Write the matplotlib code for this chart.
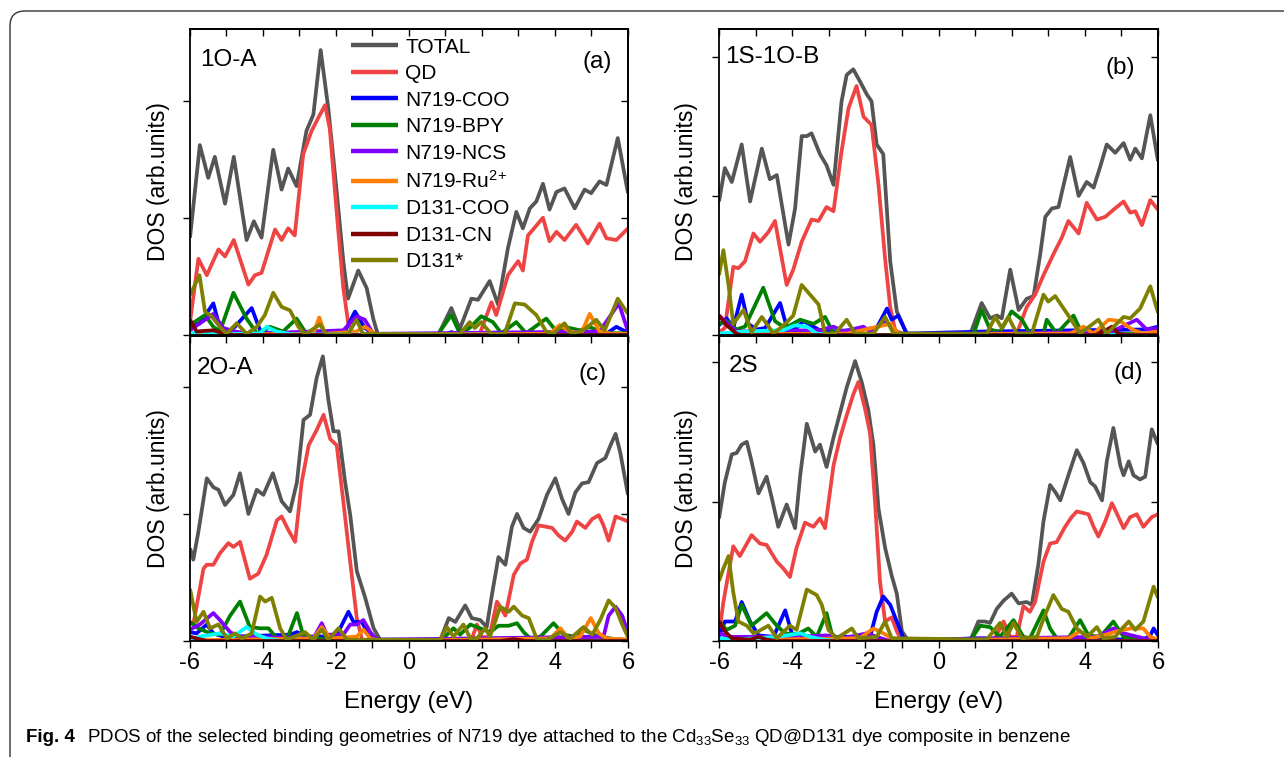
import numpy as np
import matplotlib
matplotlib.use('Agg')
import matplotlib.pyplot as plt
from matplotlib import font_manager
from matplotlib.path import Path
from matplotlib.patches import PathPatch
from matplotlib.ticker import MultipleLocator, FuncFormatter

plt.rcParams['font.family'] = ['Liberation Sans', 'DejaVu Sans']
plt.rcParams['mathtext.fontset'] = 'custom'
plt.rcParams['mathtext.rm'] = 'Liberation Sans'
plt.rcParams['mathtext.it'] = 'Liberation Sans:italic'
plt.rcParams['mathtext.bf'] = 'Liberation Sans:bold'

labels = ['TOTAL', 'QD', 'N719-COO', 'N719-BPY', 'N719-NCS', r'N719-Ru$^{2\!+}$',
          'D131-COO', 'D131-CN', 'D131*']
colors = ['#555555', '#EE4444', '#0000FF', '#008000', '#8000FF', '#FF8000',
          '#00FFFF', '#800000', '#808000']

# ---------------- panel (a) 1O-A ----------------
a_total = [(-6.0, 8.3), (-5.73, 16.2), (-5.50, 13.4), (-5.32, 15.2), (-5.04, 11.2), (-4.80, 15.2),
           (-4.45, 8.1), (-4.25, 9.7), (-4.04, 8.3), (-3.72, 15.8), (-3.49, 12.4), (-3.31, 14.2),
           (-3.08, 12.7), (-2.81, 17.4), (-2.62, 18.8), (-2.42, 24.3), (-2.21, 19.3), (-1.99, 12.5),
           (-1.80, 6.3), (-1.67, 3.1), (-1.39, 5.5), (-1.16, 4.0), (-0.98, 1.4), (-0.85, 0.0),
           (0.80, 0.0), (1.16, 2.3), (1.39, 0.5), (1.71, 3.1), (1.89, 3.0), (2.21, 4.6), (2.44, 2.6),
           (2.71, 7.4), (2.94, 10.5), (3.12, 9.1), (3.31, 10.8), (3.49, 11.4), (3.67, 12.9),
           (3.85, 10.7), (4.04, 12.2), (4.26, 12.5), (4.54, 10.8), (4.81, 12.4), (4.99, 12.1),
           (5.22, 13.1), (5.41, 12.8), (5.72, 16.8), (6.0, 12.1)]
a_qd = [(-6.0, 1.1), (-5.77, 6.5), (-5.54, 5.1), (-5.22, 7.3), (-5.04, 6.7), (-4.80, 8.1), (-4.40, 4.3),
        (-4.22, 5.1), (-4.04, 5.3), (-3.67, 9.0), (-3.49, 8.1), (-3.31, 9.1), (-3.13, 8.5), (-2.90, 15.4),
        (-2.67, 17.4), (-2.49, 18.5), (-2.30, 19.6), (-2.17, 17.6), (-1.99, 10.8), (-1.80, 4.0),
        (-1.67, 1.1), (-1.53, 0.0), (1.94, 0.1), (2.26, 2.8), (2.39, 1.7), (2.71, 5.1), (2.85, 5.7),
        (2.99, 6.3), (3.12, 5.5), (3.26, 8.5), (3.40, 9.0), (3.67, 10.0), (3.85, 8.0), (4.04, 8.8),
        (4.26, 8.1), (4.58, 9.4), (4.90, 7.8), (5.22, 9.5), (5.41, 8.25), (5.68, 8.1), (6.0, 9.1)]
a_n719_coo = [(-6.0, 0.7), (-5.73, 1.0), (-5.36, 2.7), (-5.18, 0.6), (-5.0, 0.15), (-4.77, 0.7),
              (-4.31, 2.3), (-4.08, 0.4), (-3.81, 0.15), (-1.76, 0.3), (-1.48, 2.0), (-1.21, 0.6),
              (-0.98, 0.1), (1.0, 0.0), (1.16, 0.25), (1.4, 0.0), (5.4, 0.1), (5.68, 0.7), (6.0, 0.2)]
a_n719_bpy = [(-6.0, 0.85), (-5.59, 1.7), (-5.36, 0.7), (-5.18, 0.3), (-4.81, 3.6), (-4.45, 1.4),
              (-4.17, 0.15), (-3.81, 0.7), (-3.45, 0.3), (-3.08, 1.4), (-2.81, 0.1), (-2.44, 0.3),
              (-2.2, 0.0), (0.78, 0.0), (1.16, 1.7), (1.39, 0.15), (1.66, 0.6), (1.98, 1.6), (2.30, 1.1),
              (2.53, 0.15), (2.94, 1.1), (3.21, 0.15), (3.76, 1.4), (4.04, 0.3), (4.26, 0.7), (4.68, 0.4),
              (4.95, 0.7), (5.31, 0.15), (6.0, 0.15)]
a_n719_ncs = [(-6.0, 0.4), (-5.36, 1.8), (-5.09, 0.6), (-4.77, 0.3), (-4.3, 0.1), (-1.80, 0.4),
              (-1.44, 1.6), (-1.21, 1.3), (-0.98, 0.1), (5.22, 0.3), (5.75, 2.7), (6.0, 0.3)]
a_n719_ru = [(-6.0, 0.05), (-2.62, 0.1), (-2.46, 1.5), (-2.30, 0.1), (-1.44, 0.3), (-1.21, 0.7),
             (-0.9, 0.05), (3.85, 0.1), (4.13, 0.85), (4.40, 0.3), (4.72, 0.15), (4.95, 1.8),
             (5.22, 0.3), (5.58, 0.1), (6.0, 0.1)]
a_d131_coo = [(-6.0, 0.1), (-5.73, 0.3), (-5.27, 0.05), (-4.08, 0.15), (-3.90, 0.7), (-3.63, 0.3),
              (-3.2, 0.05), (6.0, 0.0)]
a_d131_cn = [(-6.0, 1.3), (-5.82, 0.3), (-5.36, 0.4), (-5.09, 0.15), (-4.8, 0.0), (6.0, 0.0)]
a_d131 = [(-6.0, 3.4), (-5.74, 5.1), (-5.59, 2.0), (-5.41, 1.6), (-5.18, 0.7), (-5.0, 0.1), (-4.72, 1.0),
          (-4.45, 0.1), (-4.17, 0.7), (-3.95, 1.7), (-3.72, 3.6), (-3.49, 2.4), (-3.26, 2.1),
          (-3.03, 0.7), (-2.85, 0.05), (-2.44, 0.9), (-2.26, 0.05), (-1.67, 0.05), (-1.44, 1.3),
          (-1.26, 0.1), (1.39, 0.05), (1.66, 1.1), (1.80, 0.6), (1.98, 1.1), (2.26, 0.05), (2.62, 0.1),
          (2.90, 2.7), (3.17, 2.6), (3.49, 1.7), (3.76, 0.3), (3.95, 0.1), (4.26, 1.0), (4.45, 0.1),
          (4.77, 0.4), (5.13, 1.3), (5.36, 0.4), (5.72, 3.1), (6.0, 1.8)]

# ---------------- panel (b) 1S-1O-B ----------------
b_total = [(-6.0, 9.6), (-5.84, 12.0), (-5.65, 11.0), (-5.38, 13.7), (-5.15, 9.6), (-4.83, 13.4),
           (-4.61, 11.2), (-4.42, 11.5), (-4.10, 6.5), (-3.92, 9.1), (-3.74, 14.3), (-3.60, 14.3),
           (-3.47, 14.5), (-3.24, 13.0), (-3.06, 12.2), (-2.87, 10.8), (-2.65, 16.8), (-2.51, 18.7),
           (-2.33, 19.1), (-2.14, 18.2), (-1.96, 17.3), (-1.83, 16.8), (-1.69, 13.7), (-1.51, 13.0),
           (-1.32, 5.3), (-1.14, 1.7), (-0.87, 0.1), (0.86, 0.0), (1.18, 2.3), (1.41, 1.2), (1.59, 1.4),
           (1.73, 1.2), (1.96, 4.7), (2.19, 1.8), (2.41, 2.6), (2.60, 2.8), (2.78, 5.8), (2.92, 8.5),
           (3.10, 9.1), (3.28, 9.2), (3.42, 10.8), (3.60, 12.8), (3.83, 10.0), (4.05, 11.0),
           (4.24, 10.6), (4.42, 12.1), (4.60, 13.7), (4.83, 13.1), (5.06, 13.8), (5.24, 12.6),
           (5.38, 13.4), (5.56, 12.7), (5.79, 15.8), (6.0, 12.5)]
b_qd = [(-6.0, 0.2), (-5.84, 0.5), (-5.61, 4.9), (-5.47, 4.8), (-5.29, 5.3), (-5.06, 7.3), (-4.88, 6.7),
        (-4.65, 7.4), (-4.47, 8.2), (-4.15, 3.6), (-3.97, 4.7), (-3.74, 6.7), (-3.47, 8.3), (-3.28, 8.2),
        (-3.06, 9.2), (-2.87, 8.9), (-2.65, 13.2), (-2.46, 16.3), (-2.24, 17.9), (-2.05, 15.7),
        (-1.83, 15.1), (-1.64, 10.8), (-1.46, 5.5), (-1.32, 2.0), (-1.19, 0.4), (-1.05, 0.0),
        (2.14, 0.1), (2.41, 2.0), (2.64, 2.9), (2.87, 4.3), (3.14, 5.8), (3.37, 7.0), (3.55, 8.2),
        (3.83, 7.3), (4.05, 9.5), (4.33, 8.3), (4.56, 8.5), (4.78, 9.0), (5.06, 9.6), (5.24, 8.8),
        (5.38, 8.9), (5.56, 7.9), (5.79, 9.7), (6.0, 9.0)]
b_n719_coo = [(-6.0, 0.7), (-5.79, 1.2), (-5.61, 0.5), (-5.38, 2.9), (-5.20, 0.8), (-4.97, 0.4),
              (-4.74, 0.5), (-4.33, 2.3), (-4.15, 0.6), (-3.88, 0.5), (-3.69, 1.0), (-3.42, 0.6),
              (-3.15, 0.2), (-1.69, 0.5), (-1.41, 1.9), (-1.28, 1.1), (-1.10, 1.4), (-0.87, 0.1),
              (1.23, 0.25), (5.69, 0.4), (6.0, 0.6)]
b_n719_bpy = [(-6.0, 0.8), (-5.79, 1.0), (-5.52, 0.4), (-5.29, 0.6), (-4.79, 3.4), (-4.47, 1.0),
              (-4.19, 0.5), (-3.78, 1.1), (-3.42, 0.8), (-3.10, 1.3), (-2.87, 0.1), (-2.5, 0.0),
              (0.95, 0.0), (1.18, 1.8), (1.41, 0.4), (1.68, 0.2), (2.0, 1.7), (2.28, 1.1), (2.50, 0.1),
              (2.87, 0.1), (2.96, 1.1), (3.23, 0.1), (3.69, 1.4), (3.87, 0.4), (4.15, 0.1), (6.0, 0.05)]
b_n719_ncs = [(-6.0, 1.4), (-5.84, 1.0), (-5.52, 0.25), (-3.24, 0.35), (-2.87, 0.6), (-2.60, 0.25),
              (-2.05, 0.6), (-1.87, 0.25), (-1.46, 1.0), (-1.14, 0.25), (-0.9, 0.05), (4.7, 0.2),
              (5.42, 1.1), (5.69, 0.4), (6.0, 0.5)]
b_n719_ru = [(-6.0, 0.05), (-2.5, 0.1), (-1.32, 0.8), (-1.14, 0.25), (-0.95, 0.05), (3.6, 0.1),
             (3.96, 0.6), (4.24, 0.1), (4.65, 1.1), (4.97, 1.0), (5.29, 0.4), (5.60, 0.1), (6.0, 0.25)]
b_d131_coo = [(-6.0, 0.1), (-5.33, 0.25), (-4.24, 0.35), (-3.92, 0.7), (-3.60, 0.6), (-3.33, 0.1),
              (-2.8, 0.0), (6.0, 0.0)]
b_d131_cn = [(-6.0, 1.4), (-5.79, 0.7), (-5.52, 0.1), (-5.4, 0.0), (4.29, 0.0), (4.51, 0.25),
             (4.74, 0.6), (4.92, 0.1), (5.1, 0.0), (6.0, 0.0)]
b_d131 = [(-6.0, 4.3), (-5.88, 6.1), (-5.74, 3.6), (-5.61, 0.8), (-5.33, 1.8), (-5.11, 0.2), (-4.83, 1.3),
          (-4.51, 0.1), (-4.19, 0.8), (-3.97, 1.4), (-3.74, 3.6), (-3.51, 2.9), (-3.28, 2.2),
          (-3.10, 0.1), (-2.83, 0.1), (-2.51, 1.1), (-2.28, 0.1), (-1.78, 0.1), (-1.46, 1.3),
          (-1.23, 0.1), (1.32, 0.1), (1.55, 1.3), (1.73, 0.5), (1.91, 1.3), (2.14, 0.1), (2.55, 0.1),
          (2.87, 2.9), (3.0, 2.4), (3.19, 2.8), (3.55, 1.4), (3.87, 0.1), (4.37, 1.1), (4.60, 0.1),
          (5.06, 1.3), (5.24, 1.2), (5.51, 1.9), (5.79, 3.5), (6.0, 1.6)]

# ---------------- panel (c) 2O-A ----------------
c_total = [(-6.0, 7.3), (-5.91, 6.4), (-5.77, 8.6), (-5.54, 12.8), (-5.36, 12.1), (-5.22, 11.9),
           (-5.04, 10.7), (-4.81, 11.5), (-4.63, 13.2), (-4.40, 10.0), (-4.17, 11.9), (-3.99, 11.5),
           (-3.73, 13.2), (-3.49, 11.0), (-3.26, 10.2), (-3.07, 12.5), (-2.89, 17.4), (-2.71, 17.8),
           (-2.53, 20.7), (-2.36, 22.4), (-2.21, 19.0), (-2.07, 16.5), (-1.93, 16.5), (-1.75, 12.5),
           (-1.61, 9.9), (-1.43, 5.5), (-1.20, 3.4), (-0.97, 1.0), (-0.79, 0.1), (0.86, 0.1),
           (1.09, 1.8), (1.27, 1.5), (1.54, 2.8), (1.72, 1.8), (1.95, 1.65), (2.13, 1.1), (2.27, 3.6),
           (2.45, 6.6), (2.64, 6.0), (2.82, 9.0), (2.96, 10.0), (3.14, 8.9), (3.32, 8.6), (3.55, 9.6),
           (3.78, 11.5), (4.01, 12.8), (4.19, 11.2), (4.37, 10.0), (4.56, 11.7), (4.74, 12.4),
           (4.92, 12.5), (5.15, 14.0), (5.38, 14.4), (5.52, 15.4), (5.66, 16.3), (5.79, 14.8),
           (6.0, 11.5)]
c_qd = [(-6.0, 1.5), (-5.91, 1.3), (-5.63, 5.7), (-5.54, 6.0), (-5.36, 6.0), (-5.18, 6.9), (-4.95, 7.7),
        (-4.81, 7.4), (-4.63, 7.8), (-4.36, 4.9), (-4.13, 5.3), (-3.90, 6.8), (-3.62, 9.5), (-3.49, 9.8),
        (-3.30, 8.7), (-3.12, 7.8), (-2.94, 12.5), (-2.75, 15.4), (-2.53, 16.6), (-2.34, 17.8),
        (-2.16, 15.9), (-1.98, 15.4), (-1.80, 11.0), (-1.61, 6.2), (-1.43, 1.8), (-1.29, 0.15),
        (-1.15, 0.0), (1.7, 0.0), (1.86, 1.3), (2.0, 0.3), (2.2, 0.3), (2.41, 3.1), (2.64, 2.0),
        (2.87, 5.2), (3.05, 6.1), (3.23, 6.4), (3.37, 7.8), (3.55, 9.1), (3.74, 9.0), (3.92, 8.9),
        (4.10, 8.3), (4.28, 7.9), (4.47, 8.6), (4.60, 9.4), (4.83, 8.9), (5.02, 9.6), (5.20, 9.9),
        (5.33, 9.1), (5.47, 7.9), (5.66, 9.8), (5.84, 9.6), (6.0, 9.4)]
c_n719_coo = [(-6.0, 0.7), (-5.82, 0.6), (-5.54, 1.3), (-5.36, 0.6), (-5.09, 0.35), (-4.72, 0.35),
              (-3.26, 0.5), (-3.07, 0.7), (-2.80, 0.35), (-2.0, 0.35), (-1.66, 2.3), (-1.52, 1.5),
              (-1.29, 1.5), (-1.11, 0.5), (-0.88, 0.1), (6.0, 0.05)]
c_n719_bpy = [(-6.0, 1.5), (-5.77, 1.0), (-5.45, 0.6), (-5.18, 0.5), (-4.90, 2.0), (-4.63, 3.1),
              (-4.36, 1.1), (-4.08, 1.0), (-3.85, 1.0), (-3.62, 0.2), (-3.35, 0.1), (-3.07, 2.2),
              (-2.89, 0.35), (-2.62, 0.1), (-2.44, 0.2), (-2.2, 0.0), (0.86, 0.0), (1.22, 1.0),
              (1.40, 0.5), (1.68, 1.3), (1.95, 1.0), (2.22, 0.7), (2.45, 1.2), (2.73, 1.2), (2.96, 1.4),
              (3.14, 0.7), (3.32, 0.2), (3.60, 0.35), (3.96, 1.4), (4.24, 0.5), (4.51, 0.35),
              (4.78, 0.9), (5.06, 0.5), (5.24, 0.35), (5.61, 0.15), (6.0, 0.1)]
c_n719_ncs = [(-6.0, 0.9), (-5.73, 1.3), (-5.36, 2.2), (-5.18, 1.65), (-4.90, 0.7), (-4.68, 0.35),
              (-2.62, 0.2), (-2.39, 1.4), (-2.25, 0.5), (-1.80, 0.5), (-1.61, 1.3), (-1.43, 1.3),
              (-1.25, 1.65), (-1.06, 0.7), (-0.88, 0.1), (5.33, 0.35), (5.47, 2.0), (5.66, 2.7),
              (5.84, 2.0), (6.0, 0.6)]
c_n719_ru = [(-6.0, 0.05), (-2.62, 0.2), (-2.39, 1.1), (-2.16, 0.2), (-1.43, 0.35), (-1.25, 0.9),
             (-1.06, 0.2), (-0.8, 0.0), (3.87, 0.2), (4.15, 1.0), (4.37, 0.2), (4.69, 0.35), (4.98, 1.8),
             (5.20, 0.6), (5.42, 0.2), (6.0, 0.1)]
c_d131_coo = [(-6.0, 0.1), (-5.73, 0.35), (-5.18, 0.6), (-4.81, 0.35), (-4.45, 1.1), (-4.17, 0.5),
              (-3.90, 0.2), (-3.5, 0.0), (6.0, 0.0)]
c_d131_cn = [(-6.0, 0.35), (-5.82, 0.2), (-5.54, 0.0), (2.5, 0.0), (2.87, 0.15), (3.2, 0.0), (6.0, 0.0)]
c_d131 = [(-6.0, 4.1), (-5.82, 1.5), (-5.63, 2.3), (-5.45, 1.0), (-5.22, 1.3), (-4.99, 0.2), (-4.77, 0.6),
          (-4.58, 0.2), (-4.31, 0.6), (-4.08, 3.5), (-3.94, 3.1), (-3.76, 3.4), (-3.53, 1.0),
          (-3.35, 0.1), (-2.85, 0.7), (-2.62, 0.1), (-2.39, 0.9), (-2.21, 0.1), (-1.93, 1.0),
          (-1.70, 0.1), (0.86, 0.1), (1.04, 1.1), (1.22, 0.35), (1.49, 1.3), (1.68, 0.2), (1.86, 0.2),
          (2.09, 1.0), (2.22, 0.35), (2.50, 2.7), (2.73, 2.3), (2.87, 2.7), (3.10, 2.0), (3.28, 1.8),
          (3.51, 0.1), (3.78, 0.1), (4.15, 0.7), (4.42, 0.2), (4.78, 1.1), (5.02, 0.5), (5.24, 1.65),
          (5.47, 3.2), (5.66, 2.6), (5.84, 1.3), (6.0, 0.3)]

# ---------------- panel (d) 2S ----------------
d_total = [(-6.0, 8.8), (-5.84, 11.4), (-5.65, 13.4), (-5.52, 13.5), (-5.38, 14.1), (-5.24, 14.3),
           (-5.11, 12.9), (-4.92, 10.6), (-4.70, 11.8), (-4.56, 10.3), (-4.38, 8.2), (-4.15, 9.8),
           (-3.92, 8.1), (-3.78, 11.9), (-3.60, 15.6), (-3.37, 13.6), (-3.24, 14.1), (-3.06, 12.5),
           (-2.87, 14.6), (-2.69, 16.4), (-2.51, 18.2), (-2.28, 20.1), (-2.10, 18.6), (-1.92, 16.6),
           (-1.78, 14.1), (-1.64, 9.5), (-1.46, 6.7), (-1.28, 4.7), (-1.14, 3.4), (-1.0, 0.7),
           (-0.82, 0.0), (0.86, 0.0), (1.09, 1.4), (1.27, 1.4), (1.41, 1.3), (1.59, 2.3), (1.78, 2.9),
           (2.0, 3.4), (2.19, 2.7), (2.41, 2.8), (2.55, 2.6), (2.73, 5.5), (2.87, 8.6), (3.05, 11.2),
           (3.19, 10.7), (3.33, 10.1), (3.55, 11.9), (3.78, 13.7), (3.96, 12.8), (4.15, 11.4),
           (4.28, 11.1), (4.47, 10.1), (4.60, 12.9), (4.78, 15.3), (4.97, 12.6), (5.06, 11.9),
           (5.20, 12.9), (5.33, 11.9), (5.51, 11.6), (5.65, 11.8), (5.83, 15.2), (6.0, 14.1)]
d_qd = [(-6.0, 0.4), (-5.88, 2.8), (-5.61, 6.8), (-5.43, 6.1), (-5.11, 7.6), (-4.88, 7.0), (-4.70, 6.9),
        (-4.42, 5.7), (-4.24, 5.2), (-4.06, 4.6), (-3.88, 6.7), (-3.65, 8.5), (-3.42, 8.2), (-3.24, 8.8),
        (-3.10, 8.1), (-2.87, 12.6), (-2.69, 14.6), (-2.51, 16.2), (-2.33, 17.7), (-2.19, 18.6),
        (-2.01, 16.7), (-1.87, 14.9), (-1.73, 9.8), (-1.60, 4.3), (-1.46, 1.4), (-1.28, 1.7),
        (-1.14, 0.7), (-1.0, 0.0), (1.5, 0.0), (1.78, 1.4), (1.96, 0.3), (2.14, 0.3), (2.32, 2.5),
        (2.50, 2.1), (2.64, 2.8), (2.87, 5.7), (3.05, 7.0), (3.23, 7.1), (3.46, 8.2), (3.64, 8.9),
        (3.78, 9.3), (4.10, 9.1), (4.24, 8.2), (4.37, 7.5), (4.56, 8.6), (4.74, 9.9), (4.92, 8.9),
        (5.06, 8.1), (5.24, 8.9), (5.42, 9.1), (5.60, 8.2), (5.83, 8.9), (6.0, 9.1)]
d_n719_coo = [(-6.0, 0.3), (-5.84, 1.4), (-5.56, 1.4), (-5.38, 2.8), (-5.15, 1.4), (-4.92, 0.4),
              (-4.51, 0.3), (-4.19, 2.2), (-4.01, 0.55), (-3.60, 0.3), (-1.87, 0.3), (-1.69, 2.1),
              (-1.51, 3.2), (-1.32, 2.6), (-1.14, 1.4), (-0.96, 0.2), (-0.7, 0.0), (1.0, 0.2),
              (5.6, 0.1), (5.79, 0.4), (5.88, 0.9), (6.0, 0.4)]
d_n719_bpy = [(-6.0, 1.4), (-5.79, 0.8), (-5.56, 1.1), (-5.38, 2.6), (-5.11, 1.1), (-4.70, 2.0),
              (-4.42, 1.1), (-4.19, 0.55), (-3.88, 0.45), (-3.56, 0.9), (-3.33, 0.3), (-3.06, 2.0),
              (-2.92, 0.55), (-2.78, 0.1), (-2.5, 0.0), (0.86, 0.0), (1.14, 1.1), (1.41, 1.0),
              (1.68, 0.3), (2.05, 1.5), (2.32, 0.3), (2.50, 0.2), (2.87, 2.2), (3.05, 0.9), (3.23, 0.2),
              (3.55, 0.2), (3.87, 1.5), (4.10, 0.4), (4.42, 0.3), (4.78, 1.4), (5.06, 0.3), (5.4, 0.1),
              (6.0, 0.05)]
d_n719_ncs = [(-6.0, 0.55), (-5.70, 0.3), (-3.97, 0.3), (-3.06, 0.4), (-2.60, 0.2), (-1.96, 0.55),
              (-1.69, 0.3), (-1.4, 0.05), (4.33, 0.3), (4.78, 0.9), (5.06, 0.55), (5.60, 0.2), (6.0, 0.1)]
d_n719_ru = [(-6.0, 0.05), (-2.15, 0.2), (-1.78, 0.9), (-1.51, 0.55), (-1.28, 0.2), (-1.0, 0.0),
             (3.55, 0.2), (3.87, 0.7), (4.15, 0.2), (4.51, 0.4), (4.88, 0.7), (5.24, 0.9), (5.60, 0.9),
             (5.79, 0.3), (6.0, 0.1)]
d_d131_coo = [(-6.0, 0.2), (-5.70, 0.1), (-4.97, 0.2), (-4.42, 0.3), (-3.78, 0.55), (-3.51, 0.3),
              (-3.15, 0.1), (-2.8, 0.0), (6.0, 0.0)]
d_d131_cn = [(-6.0, 1.4), (-5.84, 0.7), (-5.65, 0.2), (-5.15, 0.1), (-4.92, 0.3), (-4.70, 0.1),
             (-4.4, 0.0), (6.0, 0.0)]
d_d131 = [(-6.0, 4.3), (-5.88, 5.2), (-5.74, 6.1), (-5.61, 3.5), (-5.47, 1.4), (-5.24, 1.1), (-5.06, 0.55),
          (-4.92, 0.7), (-4.65, 1.1), (-4.42, 0.2), (-4.06, 1.1), (-3.88, 0.8), (-3.60, 3.7),
          (-3.33, 3.3), (-3.19, 2.6), (-3.01, 0.8), (-2.78, 0.2), (-2.37, 0.9), (-2.19, 0.2),
          (-1.69, 0.3), (-1.46, 1.4), (-1.28, 0.2), (1.32, 0.1), (1.68, 1.3), (1.87, 0.3), (2.05, 1.3),
          (2.28, 0.2), (2.69, 0.3), (2.87, 1.6), (3.14, 3.3), (3.37, 2.3), (3.55, 2.1), (3.78, 0.9),
          (4.06, 0.3), (4.33, 1.0), (4.51, 0.2), (4.83, 0.3), (5.02, 0.9), (5.20, 1.4), (5.38, 0.8),
          (5.60, 1.4), (5.88, 3.9), (6.0, 3.1)]

panels = [
    ('1O-A', '(a)', 26.1, [a_total, a_qd, a_n719_coo, a_n719_bpy, a_n719_ncs, a_n719_ru,
                           a_d131_coo, a_d131_cn, a_d131]),
    ('1S-1O-B', '(b)', 22.0, [b_total, b_qd, b_n719_coo, b_n719_bpy, b_n719_ncs, b_n719_ru,
                              b_d131_coo, b_d131_cn, b_d131]),
    ('2O-A', '(c)', 24.0, [c_total, c_qd, c_n719_coo, c_n719_bpy, c_n719_ncs, c_n719_ru,
                           c_d131_coo, c_d131_cn, c_d131]),
    ('2S', '(d)', 21.9, [d_total, d_qd, d_n719_coo, d_n719_bpy, d_n719_ncs, d_n719_ru,
                         d_d131_coo, d_d131_cn, d_d131]),
]

W, H = 1284, 757
fig = plt.figure(figsize=(W / 100, H / 100), dpi=100)

# axes boxes in pixels: left, top, right, bottom
boxes = [(190, 29, 628, 335), (719, 29, 1158, 335), (190, 336, 628, 641), (719, 336, 1158, 641)]
# panel name / letter anchor positions in pixels
name_pos = [(200, 60), (725, 57), (197, 368), (729, 366)]
letter_pos = [(612, 62), (1135, 68), (607, 374), (1143, 373)]


def even_only(v, pos):
    k = int(round(v))
    return '%d' % k if k % 2 == 0 else ''


axes = []
for i, (name, letter, ytop, series) in enumerate(panels):
    l, t, r, b = boxes[i]
    ax = fig.add_axes([l / W, 1 - b / H, (r - l) / W, (b - t) / H])
    axes.append(ax)
    for k, pts in enumerate(series):
        e = [p[0] for p in pts]
        y = [p[1] for p in pts]
        ax.plot(e, y, color=colors[k], lw=2.7, label=labels[k], solid_joinstyle='round',
                solid_capstyle='butt', clip_on=True)
    ax.set_xlim(-6, 6)
    ax.set_ylim(0, ytop)
    ax.xaxis.set_major_locator(MultipleLocator(1))
    ax.xaxis.set_major_formatter(FuncFormatter(even_only))
    ax.set_yticks([0, 10, 20])
    ax.set_yticklabels([])
    ax.tick_params(axis='both', which='major', direction='out', length=5, width=1.0,
                   top=False, right=False, labelsize=17, pad=3)
    if i < 2:
        ax.tick_params(axis='x', labelbottom=False)
    for sp in ax.spines.values():
        sp.set_linewidth(1.3)
    # mirrored ticks on top and right pointing inward
    top = ax.secondary_xaxis('top')
    top.xaxis.set_major_locator(MultipleLocator(1))
    top.tick_params(direction='in', length=5, width=1.0, labeltop=False)
    top.spines['top'].set_linewidth(1.3)
    rt = ax.secondary_yaxis('right')
    rt.set_yticks([0, 10, 20])
    rt.tick_params(direction='in', length=5, width=1.0, labelright=False)
    rt.spines['right'].set_linewidth(1.3)

    nx, ny = name_pos[i]
    fig.text(nx / W, 1 - ny / H, name, fontsize=17.5, ha='left', va='center')
    lx, ly = letter_pos[i]
    fig.text(lx / W, 1 - ly / H, letter, fontsize=17.5, ha='right', va='center')

    cx = (l + r) / 2
    fig.text((l - 32) / W, 1 - ((t + b) / 2) / H, 'DOS (arb.units)', fontsize=16.5,
             rotation=90, ha='center', va='center')
    if i >= 2:
        fig.text(cx / W, 1 - 702 / H, 'Energy (eV)', fontsize=17.5, ha='center', va='center')

leg = axes[0].legend(loc='upper left', bbox_to_anchor=(0.368, 0.972), frameon=False,
                     fontsize=15, handlelength=2.25, handletextpad=0.35, labelspacing=0.36,
                     borderpad=0, borderaxespad=0)
for h in leg.get_lines():
    h.set_linewidth(3.2)

# journal frame with rounded top-left corner
frame = Path([(10 / W, 0.0), (10 / W, 1 - 26 / H), (10 / W, 1 - 11 / H), (25 / W, 1 - 11 / H),
              (1.0, 1 - 11 / H)],
             [Path.MOVETO, Path.LINETO, Path.CURVE3, Path.CURVE3, Path.LINETO])
fig.patches.append(PathPatch(frame, transform=fig.transFigure, fill=False, lw=1.0,
                             edgecolor='#333333'))


def has_font(name):
    try:
        font_manager.findfont(font_manager.FontProperties(family=name), fallback_to_default=False)
        return True
    except ValueError:
        return False


cap_font = 'Liberation Sans Narrow' if has_font('Liberation Sans Narrow') else 'Liberation Sans'
t1 = fig.text(26 / W, 1 - 742 / H, 'Fig. 4', fontsize=13.5, fontweight='bold',
              family=cap_font, ha='left', va='baseline')
fig.canvas.draw()
ext = t1.get_window_extent()
fig.text((ext.x1 + 12) / W, 1 - 742 / H,
         'PDOS of the selected binding geometries of N719 dye attached to the '
         'Cd$_{33}$Se$_{33}$ QD@D131 dye composite in benzene',
         fontsize=13.5, family=cap_font, ha='left', va='baseline')

fig.savefig('out.png', dpi=100)
